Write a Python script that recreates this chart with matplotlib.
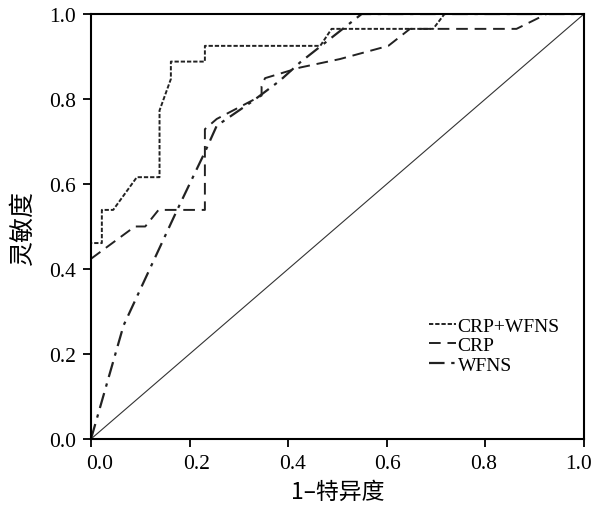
import matplotlib
matplotlib.use("Agg")
import matplotlib.pyplot as plt
from matplotlib.transforms import ScaledTranslation

# ROC curve points
crp_wfns_x = [0, 0, 0.022, 0.022, 0.045, 0.093, 0.139, 0.139, 0.162, 0.162, 0.231, 0.231, 0.465, 0.488, 0.694, 0.717, 1.0]
crp_wfns_y = [0, 0.461, 0.461, 0.539, 0.539, 0.616, 0.616, 0.773, 0.847, 0.888, 0.888, 0.925, 0.925, 0.965, 0.965, 1.0, 1.0]

crp_x = [0, 0.089, 0.11, 0.137, 0.231, 0.231, 0.255, 0.346, 0.346, 0.353, 0.424, 0.505, 0.603, 0.647, 0.863, 0.924, 1.0]
crp_y = [0.424, 0.5, 0.5, 0.539, 0.539, 0.729, 0.753, 0.808, 0.83, 0.849, 0.874, 0.894, 0.925, 0.965, 0.965, 1.0, 1.0]

wfns_x = [0, 0.066, 0.174, 0.231, 0.255, 0.329, 0.383, 0.424, 0.549, 1.0]
wfns_y = [0, 0.267, 0.537, 0.675, 0.737, 0.796, 0.843, 0.886, 1.0, 1.0]

ref_x = [0, 1]
ref_y = [0, 1]

labels = ["CRP+WFNS", "CRP", "WFNS"]
ticks = [0.0, 0.2, 0.4, 0.6, 0.8, 1.0]

serif = ["Liberation Serif", "Noto Sans CJK SC"]
cjk = ["Noto Sans CJK SC", "Liberation Serif"]

fig = plt.figure(figsize=(5.94, 5.10), dpi=100)
ax = fig.add_axes([0.1532, 0.1373, 0.830, 0.8333])

ax.plot(crp_wfns_x, crp_wfns_y, color="#222222", lw=1.4, dashes=(2.2, 1.0), label=labels[0])
ax.plot(crp_x, crp_y, color="#222222", lw=1.4, dashes=(6, 3.5), label=labels[1])
ax.plot(wfns_x, wfns_y, color="#222222", lw=1.6, dashes=(7, 3, 1.5, 3), label=labels[2])
ax.plot(ref_x, ref_y, color="#333333", lw=0.8)

ax.set_xlim(0, 1)
ax.set_ylim(0, 1)
ax.set_xticks(ticks)
ax.set_yticks(ticks)
ax.set_xticklabels(["%.1f" % t for t in ticks], family=serif, fontsize=15.5)
ax.set_yticklabels(["%.1f" % t for t in ticks], family=serif, fontsize=15.5)
ax.tick_params(direction="out", length=6, width=1.3, pad=5)
for s in ax.spines.values():
    s.set_linewidth(1.5)

# the scanned x labels drift a little relative to their ticks
shift_px = [9, 7, 4, 1, -2, -5]
for lab, dx in zip(ax.get_xticklabels(), shift_px):
    lab.set_transform(lab.get_transform() + ScaledTranslation(dx / 100, 0, fig.dpi_scale_trans))

ax.set_xlabel("1–特异度", family=cjk, fontsize=16.5, labelpad=5)
ax.set_ylabel("灵敏度", family=cjk, fontsize=18, labelpad=9)

leg = ax.legend(loc="center left", bbox_to_anchor=(0.665, 0.22), frameon=False,
                handlelength=1.4, handletextpad=0.1, labelspacing=0.1,
                borderpad=0, prop={"family": serif, "size": 14})

fig.savefig("out.png", dpi=100)
